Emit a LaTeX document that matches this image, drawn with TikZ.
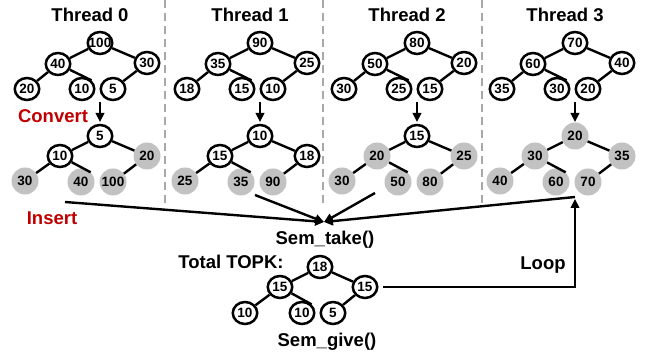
\documentclass[tikz,border=0pt]{standalone}
\usepackage{fontspec}
\setmainfont{Liberation Sans}
\usetikzlibrary{arrows.meta,shapes.geometric}
\definecolor{convred}{RGB}{192,0,0}
\definecolor{heapgray}{RGB}{194,194,194}
\definecolor{sepgray}{RGB}{168,168,168}
\begin{document}
\begin{tikzpicture}[x=1pt,y=-1pt,
  wn/.style={ellipse,draw,line width=2.5pt,fill=white,minimum width=24.5pt,minimum height=22pt,
    inner sep=0pt,font=\fontsize{13.5}{14}\selectfont\bfseries},
  gn/.style={circle,fill=heapgray,minimum size=27pt,inner sep=0pt,
    font=\fontsize{13.5}{14}\selectfont\bfseries},
  edge/.style={line width=2.4pt},
  arr/.style={line width=2.4pt,-{Triangle[length=9pt,width=8.5pt]}},
  lbl/.style={font=\fontsize{18.5}{20}\selectfont\bfseries,inner sep=0pt},
  sepline/.style={sepgray,line width=2pt,dash pattern=on 8pt off 5pt}]
\useasboundingbox (0,0) rectangle (649,358);

% separators between the threads
\foreach \sx in {165,323,482}
  \draw[sepline] (\sx,0) -- (\sx,205);

% per-thread heaps before conversion
\foreach \n/\x/\A/\B/\C/\D/\E/\F in
  {0/100/100/40/30/20/10/5,
   1/260/90/35/25/18/15/10,
   2/417/80/50/20/30/25/15,
   3/575/70/60/40/35/30/20}{
  \node[lbl] (title\n) at (\x-10,15) {Thread \n};
  \node[wn] (ua\n) at (\x,43) {\makebox[13pt]{\A}};
  \node[wn] (ub\n) at (\x-42,64) {\B};
  \node[wn] (uc\n) at (\x+47,63) {\C};
  \node[wn] (ud\n) at (\x-73,89) {\D};
  \node[wn] (ue\n) at (\x-18,89) {\E};
  \node[wn] (uf\n) at (\x+13,89) {\F};
  \draw[edge] (ua\n) -- (ub\n);
  \draw[edge] (ua\n) -- (uc\n);
  \draw[edge] (ub\n) -- (ud\n);
  \draw[edge] (ub\n) -- (ue\n.north east);
  \draw[edge] (uc\n) -- (uf\n);
  \coordinate (ctop\n) at (\x,102);
  \coordinate (cbot\n) at (\x,122);
  \draw[arr] (ctop\n) -- (cbot\n);
}

% per-thread heaps after conversion (gray = already inserted)
\foreach \n/\x/\A/\sA/\B/\sB/\C/\sC/\D/\sD/\E/\sE/\F/\sF in
  {0/100/5/wn/10/wn/20/gn/30/gn/40/gn/100/gn,
   1/260/10/wn/15/wn/18/wn/25/gn/35/gn/90/gn,
   2/417/15/wn/20/gn/25/gn/30/gn/50/gn/80/gn,
   3/575/20/gn/30/gn/35/gn/40/gn/60/gn/70/gn}{
  \node[\sA] (la\n) at (\x,136) {\A};
  \node[\sB] (lb\n) at (\x-40,156) {\B};
  \node[\sC] (lc\n) at (\x+47,156) {\C};
  \node[\sD] (ld\n) at (\x-75,181) {\D};
  \node[\sE] (le\n) at (\x-19,182) {\E};
  \node[\sF] (lf\n) at (\x+13,182) {\F};
  \draw[edge] (la\n) -- (lb\n);
  \draw[edge] (la\n) -- (lc\n);
  \draw[edge] (lb\n) -- (ld\n);
  \draw[edge] (lb\n) -- (le\n.north east);
  \draw[edge] (lc\n) -- (lf\n);
}

\node[lbl,text=convred] (convert) at (53,116) {Convert};
\node[lbl,text=convred] (insert) at (52,218) {Insert};

% merge into the global heap
\node[lbl] (take) at (325,240) {Sem\_take()};
\coordinate (tk) at (324,222);
\coordinate (s0) at (65,202);
\coordinate (s1) at (255,195);
\coordinate (s2) at (375,193);
\coordinate (s3) at (575,197);
\draw[arr] (s0) -- (tk);
\draw[arr] (s1) -- (tk);
\draw[arr] (s2) -- (tk);
\draw[arr] (s3) -- (tk);

\node[lbl] (total) at (231,262) {Total TOPK:};
\node[wn] (ta) at (320,267) {18};
\node[wn] (tb) at (280,287) {15};
\node[wn] (tc) at (365,287) {15};
\node[wn] (td) at (245,313) {10};
\node[wn] (te) at (302,313) {10};
\node[wn] (tf) at (333,313) {5};
\draw[edge] (ta) -- (tb);
\draw[edge] (ta) -- (tc);
\draw[edge] (tb) -- (td);
\draw[edge] (tb) -- (te.north east);
\draw[edge] (tc) -- (tf);
\node[lbl] (give) at (327,342) {Sem\_give()};

% loop back to the threads
\coordinate (lp) at (575,287);
\coordinate (lt) at (575,199);
\draw[arr] ([xshift=4pt]tc.east) -- (lp) -- (lt);
\node[lbl] (loop) at (543,265) {Loop};
\end{tikzpicture}
\end{document}
